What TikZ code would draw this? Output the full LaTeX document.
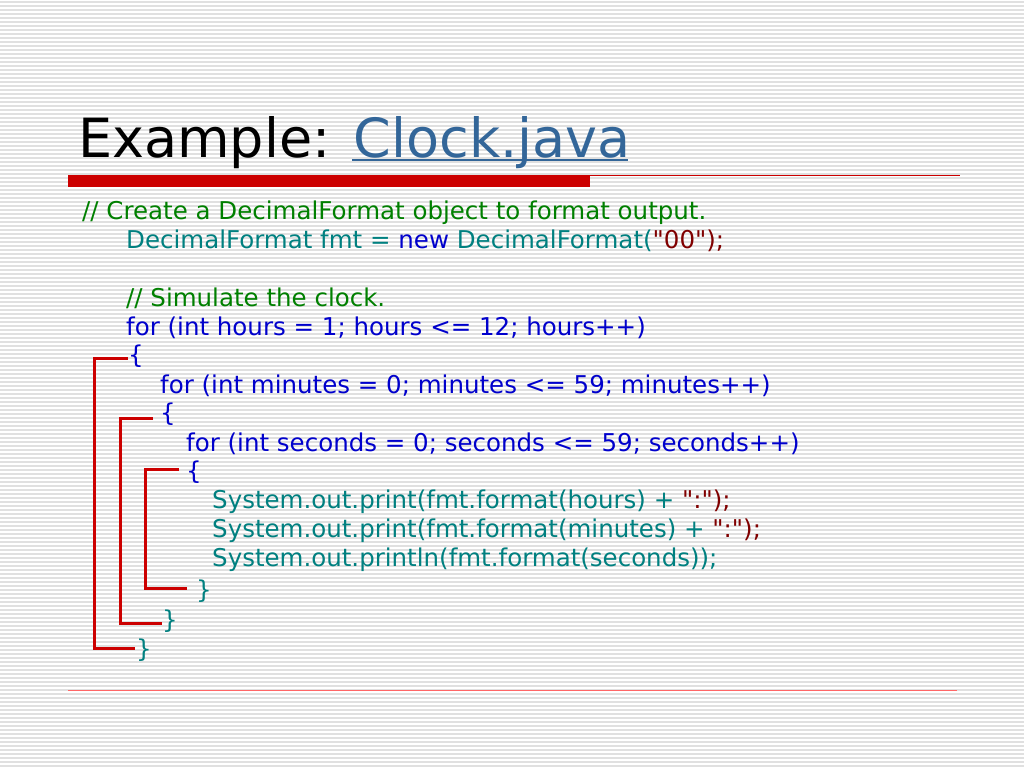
\documentclass[tikz,border=0pt]{standalone}
\usepackage{fontspec}
\setmainfont{DejaVu Sans}[Ligatures=TeXOff]
\newcommand\dq{"}
\definecolor{cgreen}{RGB}{0,128,0}
\definecolor{cteal}{RGB}{0,128,128}
\definecolor{cblue}{RGB}{0,0,204}
\definecolor{cstr}{RGB}{128,0,0}
\definecolor{ctitle}{RGB}{51,102,153}
\definecolor{cred}{RGB}{204,0,0}
\definecolor{stripe}{RGB}{224,224,224}
\begin{document}
\begin{tikzpicture}[x=1pt,y=-1pt,
  code/.style={anchor=base west,inner sep=0pt,font=\fontsize{24.5}{28}\selectfont},
  brk/.style={draw=cred,line width=3pt}]
\useasboundingbox (0,0) rectangle (1024,768);
\fill[white] (0,0) rectangle (1024,768);
\foreach \i in {0,...,191} {
  \fill[stripe] (0,{\i*4+1}) rectangle (1024,{\i*4+2.6});
}
% title
\node[anchor=base west,inner sep=0pt,font=\fontsize{54}{60}\selectfont] (title) at (78,157) {Example: \textcolor{ctitle}{Clock.java}};
\coordinate (ul1) at (352,160);
\coordinate (ul2) at (628,160);
\draw[ctitle,line width=2.5pt] (ul1) -- (ul2);
% rules
\fill[cred] (68,175) rectangle (590,187);
\coordinate (r1) at (590,175.5);
\coordinate (r2) at (960,175.5);
\draw[cred,line width=1pt] (r1) -- (r2);
\coordinate (b1) at (68,690.5);
\coordinate (b2) at (957,690.5);
\draw[red!60!white,line width=1.5pt] (b1) -- (b2);
% code
\node[code,text=cgreen] (l1) at (82,219) {// Create a DecimalFormat object to format output.};
\node[code,text=cteal] (l2) at (126,248) {DecimalFormat fmt = \textcolor{cblue}{new} DecimalFormat(\textcolor{cstr}{\dq00\dq);}};
\node[code,text=cgreen] (l3) at (126,306) {// Simulate the clock.};
\node[code,text=cblue] (l4) at (126,335) {for (int hours = 1; hours <= 12; hours++)};
\node[code,text=cblue] (l5) at (128,363) {\{};
\node[code,text=cblue] (l6) at (160,393) {for (int minutes = 0; minutes <= 59; minutes++)};
\node[code,text=cblue] (l7) at (160,421) {\{};
\node[code,text=cblue] (l8) at (186,451) {for (int seconds = 0; seconds <= 59; seconds++)};
\node[code,text=cblue] (l9) at (186,479) {\{};
\node[code,text=cteal] (l10) at (212,508) {System.out.print(fmt.format(hours) + \textcolor{cstr}{\dq:\dq);}};
\node[code,text=cteal] (l11) at (212,537) {System.out.print(fmt.format(minutes) + \textcolor{cstr}{\dq:\dq);}};
\node[code,text=cteal] (l12) at (212,566) {System.out.println(fmt.format(seconds));};
\node[code,text=cteal] (l13) at (196,598) {\}};
\node[code,text=cteal] (l14) at (162,628) {\}};
\node[code,text=cteal] (l15) at (136,657) {\}};
% brackets
\coordinate (o1) at (128,358); \coordinate (o2) at (94,358);
\coordinate (o3) at (94,648);  \coordinate (o4) at (135,648);
\draw[brk] (o1) -- (o2) -- (o3) -- (o4);
\coordinate (m1) at (153,418); \coordinate (m2) at (120,418);
\coordinate (m3) at (120,623); \coordinate (m4) at (162,623);
\draw[brk] (m1) -- (m2) -- (m3) -- (m4);
\coordinate (i1) at (179,469); \coordinate (i2) at (145,469);
\coordinate (i3) at (145,588); \coordinate (i4) at (187,588);
\draw[brk] (i1) -- (i2) -- (i3) -- (i4);
\end{tikzpicture}
\end{document}
